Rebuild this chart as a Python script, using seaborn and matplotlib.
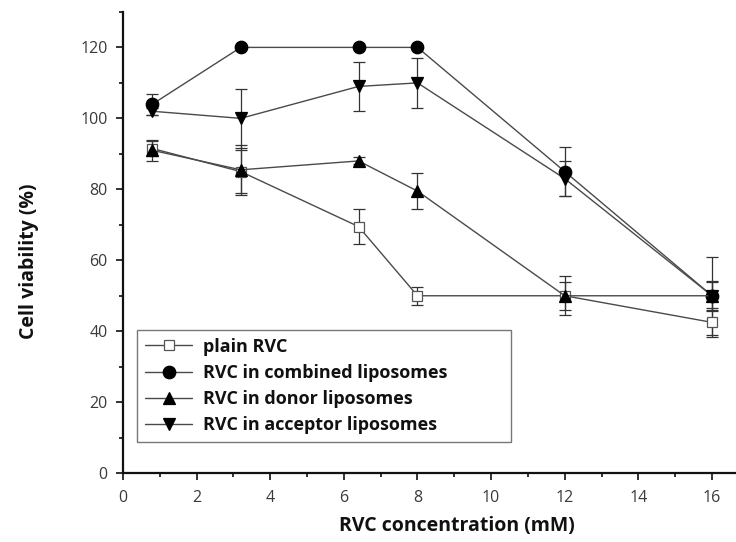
import matplotlib
matplotlib.use("Agg")
import matplotlib.pyplot as plt
import seaborn as sns
import pandas as pd

# concentrations (mM)
conc = [0.8, 3.2, 6.4, 8, 12, 16]

series_names = [
    "plain RVC",
    "RVC in combined liposomes",
    "RVC in donor liposomes",
    "RVC in acceptor liposomes",
]
plain_vals = [91.5, 85, 69.5, 50, 50, 42.5]
plain_err = [2, 6, 5, 2.5, 4, 4]
combined_vals = [104, 120, 120, 120, 85, 50]
combined_err = [3, 0, 0, 0, 7, 11]
donor_vals = [91, 85.5, 88, 79.5, 50, 50]
donor_err = [3, 7, 1, 5, 5.5, 4]
acceptor_vals = [102, 100, 109, 110, 83, 50]
acceptor_err = [1, 8.3, 7, 7, 5, 4.3]

values = [plain_vals, combined_vals, donor_vals, acceptor_vals]
errors = [plain_err, combined_err, donor_err, acceptor_err]

rows = []
for name, vals, errs in zip(series_names, values, errors):
    for c, v, e in zip(conc, vals, errs):
        rows.append({"conc": c, "viability": v, "err": e, "group": name})
df = pd.DataFrame(rows)

sns.set_theme(style="ticks")
plt.rcParams["font.family"] = ["Open Sans", "DejaVu Sans"]

fig = plt.figure(figsize=(7.36, 5.42), dpi=100)
ax = fig.add_axes([0.167, 0.127, 0.833, 0.851])

markers = {
    "plain RVC": "s",
    "RVC in combined liposomes": "o",
    "RVC in donor liposomes": "^",
    "RVC in acceptor liposomes": "v",
}
msizes = {"plain RVC": 7, "RVC in combined liposomes": 9,
          "RVC in donor liposomes": 9, "RVC in acceptor liposomes": 9}

# error bars first, under the markers
for name in series_names:
    sub = df[df["group"] == name]
    ax.errorbar(sub["conc"], sub["viability"], yerr=sub["err"], fmt="none",
                ecolor="#333333", elinewidth=0.9, capsize=4, capthick=0.9,
                zorder=2)

for name in series_names:
    sub = df[df["group"] == name]
    face = "white" if name == "plain RVC" else "black"
    sns.lineplot(data=sub, x="conc", y="viability", ax=ax, color="#4a4a4a",
                 linewidth=1.0, marker=markers[name], markersize=msizes[name],
                 markerfacecolor=face,
                 markeredgecolor="black" if face == "black" else "#555555",
                 markeredgewidth=0.9, label=name, zorder=3)

ax.set_xlim(0, 16.65)
ax.set_ylim(0, 130)
ax.set_xticks(range(0, 17, 2))
ax.set_yticks(range(0, 121, 20))
ax.set_xticks(range(1, 17, 2), minor=True)
ax.set_yticks(range(10, 131, 20), minor=True)
ax.tick_params(axis="both", which="major", length=5, width=1.3,
               labelsize=11.5, colors="#222222", labelcolor="#3a3a3a")
ax.tick_params(axis="x", which="major", pad=7)
ax.tick_params(axis="y", which="major", pad=6)
ax.tick_params(axis="both", which="minor", length=3, width=1.3, colors="#222222")
for side in ["left", "bottom"]:
    ax.spines[side].set_linewidth(1.6)
    ax.spines[side].set_color("#111111")
sns.despine(ax=ax)

ax.set_xlabel("RVC concentration (mM)", fontsize=14, fontweight="bold",
              color="#111111")
ax.set_ylabel("Cell viability (%)", fontsize=14, fontweight="bold",
              color="#111111")
ax.xaxis.set_label_coords(0.544, -0.092)
ax.yaxis.set_label_coords(-0.137, 0.46)

leg = ax.legend(loc="lower left", bbox_to_anchor=(0.023, 0.067, 0.61, 0.243),
                mode="expand", frameon=True, fancybox=False,
                edgecolor="#555555", fontsize=13, handlelength=2.6,
                borderpad=0.45, labelspacing=0.45, handletextpad=0.6,
                borderaxespad=0)
leg.get_frame().set_linewidth(1.0)
for t in leg.get_texts():
    t.set_fontweight("bold")
    t.set_color("#111111")

fig.savefig("out.png", dpi=100)
